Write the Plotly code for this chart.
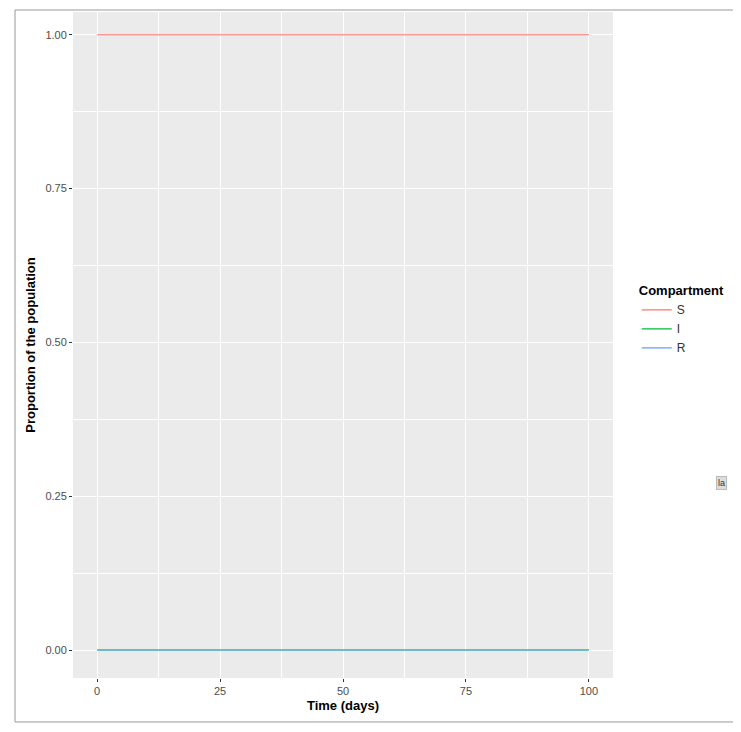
import plotly.graph_objects as go

# data
time_days = [0, 25, 50, 75, 100]
s_values = [1.0, 1.0, 1.0, 1.0, 1.0]
i_values = [0.0, 0.0, 0.0, 0.0, 0.0]
r_values = [0.0, 0.0, 0.0, 0.0, 0.0]
x_ticks = [0, 25, 50, 75, 100]
y_ticks = [0.0, 0.25, 0.5, 0.75, 1.0]
y_labels = ["0.00", "0.25", "0.50", "0.75", "1.00"]

fig = go.Figure()
fig.add_trace(go.Scatter(x=time_days, y=s_values, mode="lines", name="S", line=dict(color="#F8766D", width=1.2)))
fig.add_trace(go.Scatter(x=time_days, y=i_values, mode="lines", name="I", line=dict(color="#00BA38", width=1.2)))
fig.add_trace(go.Scatter(x=time_days, y=r_values, mode="lines", name="R", line=dict(color="#619CFF", width=1.2)))

axis_common = dict(showline=False, zeroline=False, gridcolor="white", gridwidth=1.2,
                   ticks="outside", ticklen=3, tickcolor="#333333",
                   tickfont=dict(family="Liberation Sans", size=11, color="#4D4D4D"))
fig.update_xaxes(range=[-4.9, 104.9], tickvals=x_ticks,
                 minor=dict(tickvals=[12.5, 37.5, 62.5, 87.5], showgrid=True, gridcolor="white", gridwidth=0.6, ticks=""),
                 title=dict(text="<b>Time (days)</b>", standoff=4,
                            font=dict(family="Liberation Sans", size=13, color="black")), **axis_common)
fig.update_yaxes(range=[-0.0455, 1.037], tickvals=y_ticks, ticktext=y_labels,
                 minor=dict(tickvals=[0.125, 0.375, 0.625, 0.875], showgrid=True, gridcolor="white", gridwidth=0.6, ticks=""),
                 title=dict(text="<b>Proportion of the population</b>", standoff=6,
                            font=dict(family="Liberation Sans", size=13, color="black")), **axis_common)

# outer grey frame
fig.add_shape(type="rect", xref="paper", yref="paper", x0=-0.1074, x1=1.226, y0=-0.066, y1=1.003,
              line=dict(color="#999999", width=1), fillcolor="rgba(0,0,0,0)")
# small tooltip artifact
fig.add_annotation(xref="paper", yref="paper", x=1.212, y=0.283, text="la", showarrow=False,
                   font=dict(family="Liberation Sans", size=9, color="#333333"),
                   bgcolor="#DDDDDD", bordercolor="#BBBBBB", borderwidth=1)

fig.update_layout(
    width=741, height=732, margin=dict(l=65, r=136, t=4, b=62),
    plot_bgcolor="#EBEBEB", paper_bgcolor="white",
    legend=dict(x=1.044, y=0.6, xanchor="left", yanchor="top", bgcolor="white",
                title=dict(text="<b>Compartment</b>", font=dict(family="Liberation Sans", size=13, color="black")),
                font=dict(family="Liberation Sans", size=12, color="#333333"), tracegroupgap=2),
)
fig.write_html("out.html")
